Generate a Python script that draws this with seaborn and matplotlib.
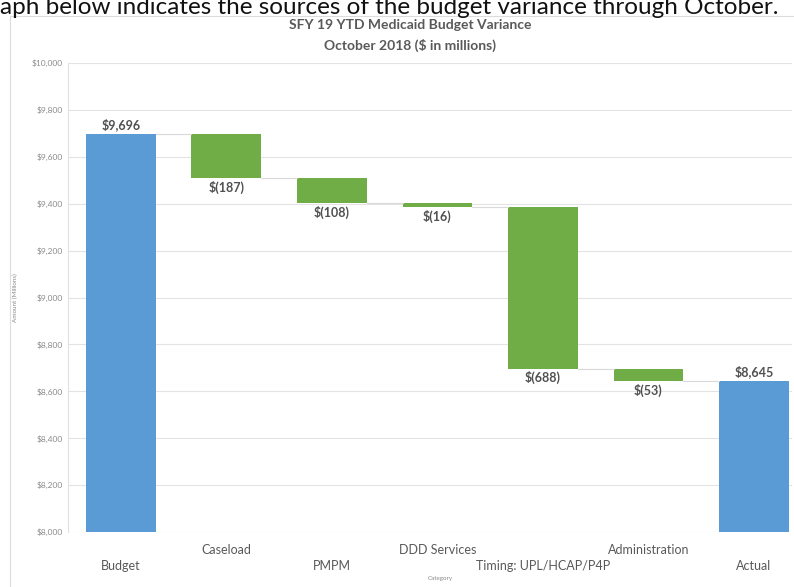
import numpy as np
import pandas as pd
import matplotlib
matplotlib.use("Agg")
import matplotlib.pyplot as plt
import seaborn as sns
from matplotlib.patches import Rectangle

categories = ["Budget", "Caseload", "PMPM", "DDD Services", "Timing: UPL/HCAP/P4P", "Administration", "Actual"]
values = [9696, -187, -108, -16, -688, -53, 8645]
kinds = ["total", "change", "change", "change", "change", "change", "total"]
labels = ["$9,696", "$(187)", "$(108)", "$(16)", "$(688)", "$(53)", "$8,645"]
yticks = [8000, 8200, 8400, 8600, 8800, 9000, 9200, 9400, 9600, 9800, 10000]

sns.set_theme(style="white")
plt.rcParams["font.family"] = ["Lato", "DejaVu Sans"]

# waterfall geometry from the data
base, height, running = [], [], 0
for v, k in zip(values, kinds):
    if k == "total":
        base.append(0); height.append(v); running = v
    else:
        new = running + v
        base.append(new); height.append(-v); running = new
df = pd.DataFrame({"cat": categories, "h": height, "b": base})

fig = plt.figure(figsize=(7.94, 5.87), dpi=100)
ax = fig.add_axes([68/794, 1-532/587, (792-68)/794, (532-63)/587])

sns.barplot(data=df, x="cat", y="h", bottom=df["b"].values, errorbar=None,
            width=0.66, ax=ax, color="#5B9BD5", saturation=1)
cols = {"total": "#5B9BD5", "change": "#70AD47"}
for p, k in zip(ax.patches, kinds):
    p.set_facecolor(cols[k]); p.set_edgecolor("none")

ax.set_ylim(8000, 10000)
ax.set_xlim(-0.5, 6.36)
ax.set_yticks(yticks)
ax.set_yticklabels([f"${t:,}" for t in yticks], fontsize=6, color="#8a8a8a")
ax.yaxis.grid(True, color="#e3e3e3", lw=0.8)
ax.set_axisbelow(True)
for s in ["top", "right", "bottom"]:
    ax.spines[s].set_visible(False)
ax.spines["left"].set_color("#e0e0e0")
ax.spines["left"].set_linewidth(0.8)

xl = [("\n" + c) if i % 2 == 0 else c for i, c in enumerate(categories)]
ax.set_xticks(range(len(categories)))
ax.set_xticklabels(xl, fontsize=9, color="#595959", linespacing=1.35)
ax.tick_params(axis="x", length=0, pad=9)
ax.tick_params(axis="y", length=0, pad=4)
ax.set_xlabel("Category", fontsize=4.5, color="#8a8a8a")
ax.set_ylabel("Amount (Millions)", fontsize=4.5, color="#8a8a8a")
ax.xaxis.set_label_coords((440-68)/724, (532-576)/469)
ax.yaxis.set_label_coords((18-68)/724, 0.5)

# connectors and labels
w = 0.33
tops = [b + h for b, h in zip(base, height)]
run_levels = []
running = 0
for v, k in zip(values, kinds):
    running = v if k == "total" else running + v
    run_levels.append(running)
for i in range(len(categories) - 1):
    ax.plot([i + w, i + 1 - w], [run_levels[i], run_levels[i]], color="#d9d9d9", lw=0.8, zorder=1)
for i, (k, lab) in enumerate(zip(kinds, labels)):
    if k == "total":
        ax.annotate(lab, (i, tops[i]), xytext=(0, 2), textcoords="offset points",
                    ha="center", va="bottom", fontsize=9, fontweight="bold", color="#505050")
    else:
        ax.annotate(lab, (i, base[i]), xytext=(0, -2), textcoords="offset points",
                    ha="center", va="top", fontsize=9, fontweight="bold", color="#505050")

fig.text(410/794, 1-25/587, "SFY 19 YTD Medicaid Budget Variance", ha="center", va="center",
         fontsize=10, fontweight="bold", color="#595959")
fig.text(410/794, 1-45/587, "October 2018 ($ in millions)", ha="center", va="center",
         fontsize=10, fontweight="bold", color="#595959")
fig.text(0, 1-14/587, "aph below indicates the sources of the budget variance through October.",
         ha="left", va="baseline", fontsize=17.5, color="#111111")
fig.add_artist(Rectangle((10/794, -0.1), 1.0, 1 - 16/587 + 0.1, transform=fig.transFigure,
                         fill=False, edgecolor="#dcdcdc", lw=0.8))

fig.savefig("out.png", dpi=100)
